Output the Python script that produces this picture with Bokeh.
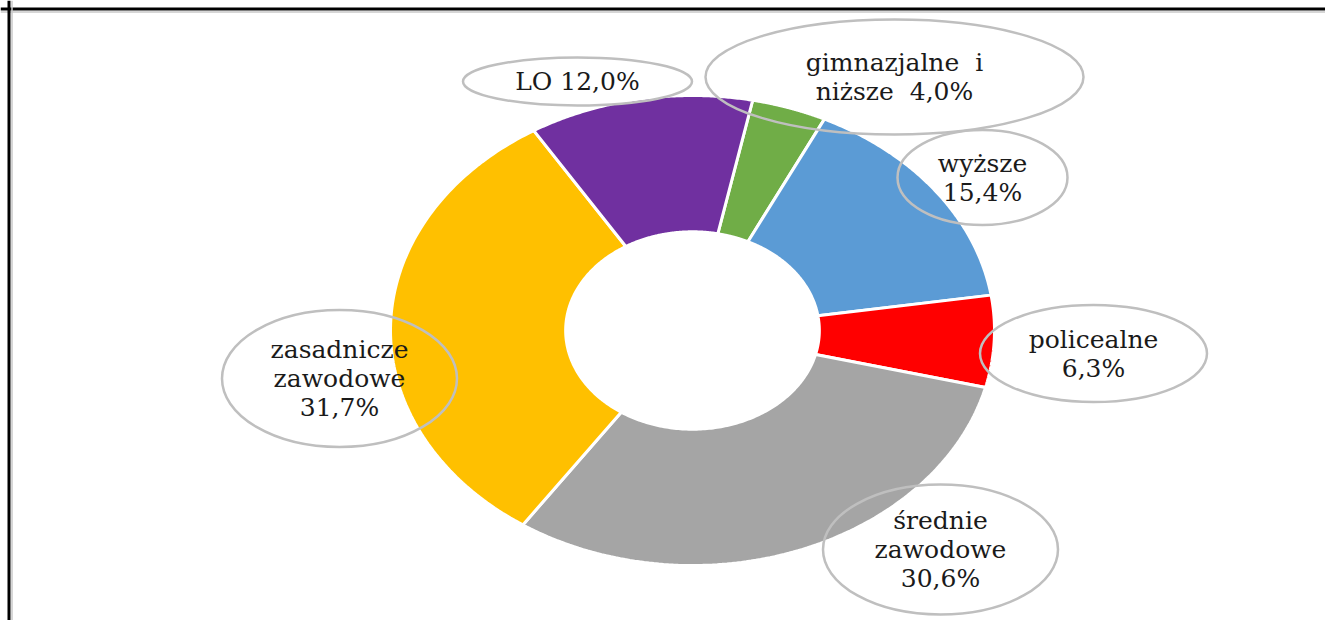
import numpy as np
from bokeh.plotting import figure
from bokeh.models import Range1d, Span
from bokeh.core.properties import value
from bokeh.embed import file_html
from bokeh.resources import INLINE

# ---- data (clockwise from the top) ----
categories = ["gimnazjalne\u00a0 i\nniższe", "wyższe", "policealne",
              "średnie\nzawodowe", "zasadnicze\nzawodowe", "LO"]
shares = [4.0, 15.4, 6.3, 30.6, 31.7, 12.0]
pct_on_new_line = [False, True, True, True, True, False]
colors = ["#70AD47", "#5B9BD5", "#FF0000", "#A5A5A5", "#FFC000", "#7030A0"]

# ---- layout (screen-like px, y downward) ----
W, H = 1325, 620
CX, CY = 692, 330          # donut centre
RX, RY = 302, 235          # outer radii
HOLE = 0.42                # inner radius ratio
START = 11.5               # degrees clockwise from top

# label callouts: centre x, centre y, width, height
callouts = [
    (894, 76.5, 378, 115),
    (982, 177, 170, 95),
    (1093, 353, 227, 97),
    (940, 549, 235, 130),
    (339, 378, 235, 137),
    (577, 81, 229, 48),
]
LINE_GAP = 29

p = figure(width=W, height=H, output_backend="svg", toolbar_location=None,
           x_range=Range1d(0, W), y_range=Range1d(H, 0), min_border=0)
p.axis.visible = False
p.grid.visible = False
p.outline_line_color = None
p.background_fill_color = "white"
p.border_fill_color = "white"

# donut slices
total = sum(shares)
cum = np.concatenate([[0], np.cumsum(shares)]) / total * 360.0 + START
xs, ys = [], []
for i in range(len(shares)):
    a = np.radians(np.linspace(cum[i], cum[i + 1], 120))
    ox = CX + RX * np.sin(a)
    oy = CY - RY * np.cos(a)
    ix = CX + RX * HOLE * np.sin(a[::-1])
    iy = CY - RY * HOLE * np.cos(a[::-1])
    xs.append(np.concatenate([ox, ix]).tolist())
    ys.append(np.concatenate([oy, iy]).tolist())
p.patches(xs, ys, fill_color=colors, line_color="white", line_width=3)

# callout ellipses
p.ellipse(x=[c[0] for c in callouts], y=[c[1] for c in callouts],
          width=[c[2] for c in callouts], height=[c[3] for c in callouts],
          fill_color=None, line_color="#BFBFBF", line_width=2.5)

# label texts
tx, ty, tt = [], [], []
for name, v, nl, c in zip(categories, shares, pct_on_new_line, callouts):
    pct = f"{v:.1f}".replace(".", ",") + "%"
    lines = name.split("\n")
    if nl:
        lines.append(pct)
    else:
        lines[-1] = lines[-1] + ("\u00a0 " if len(lines) > 1 else " ") + pct
    n = len(lines)
    for k, ln in enumerate(lines):
        tx.append(c[0])
        ty.append(c[1] - (n - 1) / 2 * LINE_GAP + k * LINE_GAP)
        tt.append(ln)
p.text(x=tx, y=ty, text=tt, text_align="center", text_baseline="middle",
       text_font=value("DejaVu Serif"), text_font_size="25px",
       text_color="#1A1A1A")

# frame (top and left edges visible)
p.add_layout(Span(location=8.5, dimension="width", line_color="black", line_width=3))
p.add_layout(Span(location=11.5, dimension="width", line_color="#C8C8C8", line_width=1.5))
p.add_layout(Span(location=8.5, dimension="height", line_color="black", line_width=3))
p.add_layout(Span(location=11.5, dimension="height", line_color="#C8C8C8", line_width=1.5))

open("out.html", "w").write(file_html(p, INLINE))
